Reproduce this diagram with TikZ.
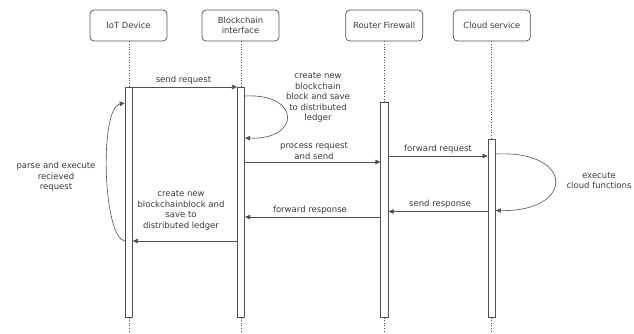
\documentclass[tikz,border=0pt]{standalone}
\usepackage{fontspec}
\setmainfont{DejaVu Sans}
\usetikzlibrary{arrows.meta,calc}
\definecolor{lc}{HTML}{505050}
\definecolor{tc}{HTML}{3A3A3A}
\begin{document}
\begin{tikzpicture}[x=1pt,y=-1pt,
  actor/.style={draw=lc,rounded corners=4pt,minimum width=77pt,minimum height=31pt,
    align=center,text=tc,font=\fontsize{8.4}{10.2}\selectfont,inner sep=1pt,line width=0.7pt},
  bar/.style={draw=lc,fill=white,minimum width=7.5pt,anchor=north,inner sep=0pt,line width=0.6pt},
  life/.style={draw=lc,dotted,line width=0.6pt},
  msg/.style={draw=lc,line width=0.6pt,-{Triangle[length=5pt,width=4.5pt]}},
  lbl/.style={text=tc,font=\fontsize{8.5}{10.5}\selectfont,align=center,inner sep=0pt}]
\useasboundingbox (0,0) rectangle (634,333);
% actors
\node[actor] (iot) at (128.5,25.5) {IoT Device};
\node[actor] (bc)  at (240.5,25.5) {Blockchain\\interface};
\node[actor] (rf)  at (384.2,25.5) {Router Firewall};
\node[actor] (cs)  at (491.8,25.5) {Cloud service};
% activation bars
\node[bar,minimum height=230pt] (iotbar) at (128.8,87) {};
\node[bar,minimum height=230pt] (bcbar)  at (241,87) {};
\node[bar,minimum height=215pt] (rfbar)  at (384.5,102) {};
\node[bar,minimum height=178pt] (csbar)  at (491.7,139) {};
% lifelines
\draw[life] (iot.south -| iotbar.north) -- (iotbar.north);
\draw[life] (bc.south -| bcbar.north) -- (bcbar.north);
\draw[life] (rf.south -| rfbar.north) -- (rfbar.north);
\draw[life] (cs.south -| csbar.north) -- (csbar.north);
\coordinate (e1) at (iotbar.south |- 0,333);
\coordinate (e2) at (bcbar.south |- 0,333);
\coordinate (e3) at (rfbar.south |- 0,333);
\coordinate (e4) at (csbar.south |- 0,333);
\draw[life] (iotbar.south) -- (e1);
\draw[life] (bcbar.south) -- (e2);
\draw[life] (rfbar.south) -- (e3);
\draw[life] (csbar.south) -- (e4);
% messages
\draw[msg] (iotbar.north east) -- (bcbar.north west);
\node[lbl] (l1) at (183.5,80) {send request};
\draw[msg] (bcbar.east |- 0,96) .. controls (301,93) and (301,140) .. (bcbar.east |- 0,138);
\node[lbl] (l2) at (318,97.5) {create new\\blockchain\\block and save\\to distributed\\ledger};
\draw[msg] (bcbar.east |- 0,162) -- (rfbar.west |- 0,162);
\node[lbl] (l3) at (314,151) {process request\\and send};
\draw[msg] (rfbar.east |- 0,156) -- (csbar.west |- 0,156);
\node[lbl] (l4) at (438,149) {forward request};
\draw[msg] (csbar.east |- 0,154) .. controls (575,150) and (575,212) .. (csbar.east |- 0,210.5);
\node[lbl] (l5) at (599,180.5) {execute\\cloud functions};
\draw[msg] (csbar.west |- 0,211.5) -- (rfbar.east |- 0,211.5);
\node[lbl] (l6) at (440,204) {send response};
\draw[msg] (rfbar.west |- 0,217) -- (bcbar.east |- 0,217);
\node[lbl] (l7) at (310,210) {forward response};
\draw[msg] (bcbar.west |- 0,241) -- (iotbar.east |- 0,241);
\node[lbl] (l8) at (181,210.5) {create new\\blockchainblock and\\save to\\distributed ledger};
\draw[msg] (iotbar.west |- 0,241) .. controls (103,238) and (99,108) .. (iotbar.west |- 0,103);
\node[lbl] (l9) at (56,177) {parse and execute\\recieved\\request};
\end{tikzpicture}
\end{document}
